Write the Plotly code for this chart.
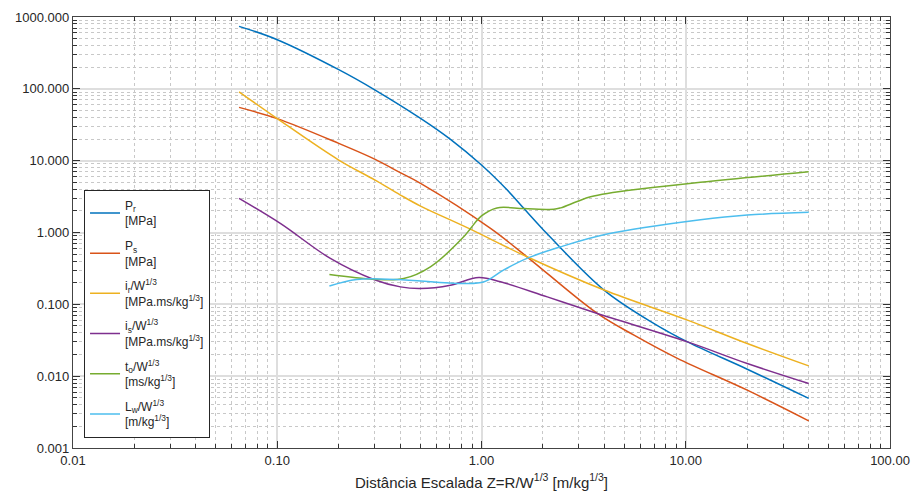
import plotly.graph_objects as go

# ---- data ----
pr_x = [0.065, 0.1, 0.2, 0.3, 0.503, 0.705, 1.0, 1.337, 1.61, 1.98, 3.98, 7.0, 10.2, 20, 40]
pr_y = [741, 483, 185, 97, 38.8, 19.8, 8.7, 3.9, 2.17, 1.14, 0.158, 0.054, 0.030, 0.0125, 0.0049]

ps_x = [0.065, 0.1, 0.2, 0.3, 0.4, 0.503, 1.107, 1.67, 3.69, 5.58, 9.1, 20, 40]
ps_y = [55.2, 38.5, 17.4, 10.5, 6.8, 4.83, 1.14, 0.459, 0.0746, 0.0372, 0.0177, 0.00638, 0.00239]

ir_x = [0.065, 0.1, 0.2, 0.3, 0.401, 0.503, 0.866, 1.67, 3.98, 10.2, 20, 40]
ir_y = [91, 38.5, 10.2, 5.4, 3.32, 2.33, 1.14, 0.459, 0.158, 0.0603, 0.0285, 0.0139]

is_x = [0.065, 0.1035, 0.182, 0.297, 0.401, 0.503, 0.705, 0.97, 1.24, 2.1, 3.69, 10.2, 20, 40]
is_y = [2.99, 1.34, 0.436, 0.222, 0.175, 0.166, 0.185, 0.237, 0.206, 0.127, 0.0746, 0.030, 0.0150, 0.0079]

to_x = [0.18, 0.297, 0.416, 0.562, 0.818, 0.884, 1.0, 1.19, 1.61, 2.26, 2.44, 2.94, 3.42, 4.13, 11.8, 40]
to_y = [0.26, 0.224, 0.229, 0.333, 0.87, 1.14, 1.7, 2.2, 2.15, 2.1, 2.2, 2.7, 3.14, 3.5, 4.99, 7.02]

lw_x = [0.18, 0.245, 0.385, 0.818, 1.03, 1.28, 1.67, 2.44, 4.13, 11.8, 20, 40]
lw_y = [0.18, 0.222, 0.222, 0.195, 0.206, 0.299, 0.436, 0.632, 0.95, 1.5, 1.75, 1.91]

names = [
    "P<sub>r</sub><br>[MPa]",
    "P<sub>s</sub><br>[MPa]",
    "i<sub>r</sub>/W<sup>1/3</sup><br>[MPa.ms/kg<sup>1/3</sup>]",
    "i<sub>s</sub>/W<sup>1/3</sup><br>[MPa.ms/kg<sup>1/3</sup>]",
    "t<sub>o</sub>/W<sup>1/3</sup><br>[ms/kg<sup>1/3</sup>]",
    "L<sub>w</sub>/W<sup>1/3</sup><br>[m/kg<sup>1/3</sup>]",
]
colors = ["#0072BD", "#D95319", "#EDB120", "#7E2F8E", "#77AC30", "#4DBEEE"]

x_tickvals = [0.01, 0.1, 1, 10, 100]
x_ticktext = ["0.01", "0.10", "1.00", "10.00", "100.00"]
y_tickvals = [0.001, 0.01, 0.1, 1, 10, 100, 1000]
y_ticktext = ["0.001", "0.010", "0.100", "1.000", "10.000", "100.000", "1000.000"]

series = [(pr_x, pr_y), (ps_x, ps_y), (ir_x, ir_y), (is_x, is_y), (to_x, to_y), (lw_x, lw_y)]

fig = go.Figure()
for i, ((xs, ys), nm, c) in enumerate(zip(series, names, colors)):
    fig.add_trace(go.Scatter(x=xs, y=ys, mode="lines", name=nm, legendgroup=f"g{i}",
                             line=dict(color=c, width=1.5, shape="spline", smoothing=1.0)))

def minor_vals(lo, hi):
    out = []
    k = lo
    while k < hi:
        for m in range(2, 10):
            out.append(m * 10 ** k)
        k += 1
    return out

axis_common = dict(
    type="log",
    ticks="inside", ticklen=7, tickwidth=1.2, tickcolor="#333333",
    showline=True, linecolor="#444444", linewidth=1.2, mirror="allticks",
    showgrid=True, gridcolor="#dedede", gridwidth=1.5,
    tickfont=dict(family="Liberation Sans, Arial", size=13, color="#262626"),
    zeroline=False, automargin=False,
)

fig.update_xaxes(
    **axis_common,
    range=[-2, 2],
    tickmode="array", tickvals=x_tickvals, ticktext=x_ticktext,
    minor=dict(tickmode="array", tickvals=minor_vals(-2, 2), ticks="inside", ticklen=4,
               tickcolor="#333333", showgrid=True, gridcolor="#c8c8c8", griddash="dot", gridwidth=1),
    title=dict(text="Distância Escalada Z=R/W<sup>1/3</sup> [m/kg<sup>1/3</sup>]",
               font=dict(family="Liberation Sans, Arial", size=15, color="#262626"), standoff=10),
)
fig.update_yaxes(
    **axis_common,
    range=[-3, 3],
    tickmode="array", tickvals=y_tickvals, ticktext=y_ticktext,
    minor=dict(tickmode="array", tickvals=minor_vals(-3, 3), ticks="inside", ticklen=4,
               tickcolor="#333333", showgrid=True, gridcolor="#c8c8c8", griddash="dot", gridwidth=1),
)

fig.update_layout(
    width=914, height=494,
    margin=dict(l=73, r=24, t=17, b=46),
    plot_bgcolor="white", paper_bgcolor="white",
    font=dict(family="Liberation Sans, Arial", color="#262626"),
    legend=dict(x=0.0135, y=0.599, xanchor="left", yanchor="top",
                bgcolor="white", bordercolor="#262626", borderwidth=1,
                font=dict(family="Liberation Sans, Arial", size=12, color="#262626"),
                tracegroupgap=6),
    showlegend=True,
)

fig.write_html("out.html")
